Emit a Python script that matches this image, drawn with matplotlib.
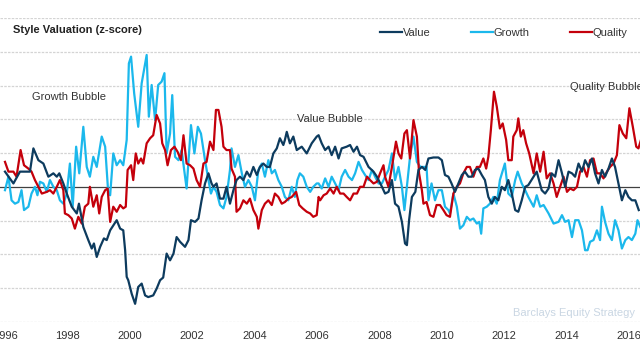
import matplotlib
matplotlib.use("Agg")
import matplotlib.pyplot as plt

# ============================================================
# Style Valuation (z-score) - Value / Growth / Quality
# ============================================================

value_years = [
    1996.00, 1996.27, 1996.48, 1996.80, 1996.91, 1997.07, 1997.23, 1997.39, 1997.55, 1997.66,
    1997.74, 1997.87, 1997.98, 1998.14, 1998.30, 1998.37, 1998.51, 1998.67, 1998.78, 1998.85,
    1998.94, 1999.05, 1999.17, 1999.26, 1999.37, 1999.58, 1999.69, 1999.79, 1999.85, 1999.90,
    1999.95, 2000.06, 2000.17, 2000.27, 2000.38, 2000.49, 2000.59, 2000.75, 2000.86, 2000.97,
    2001.07, 2001.18, 2001.29, 2001.40, 2001.50, 2001.61, 2001.77, 2001.88, 2001.96, 2002.09,
    2002.20, 2002.30, 2002.41, 2002.52, 2002.62, 2002.68, 2002.78, 2002.89, 2003.00, 2003.10,
    2003.21, 2003.32, 2003.42, 2003.53, 2003.64, 2003.75, 2003.85, 2003.96, 2004.07, 2004.17,
    2004.28, 2004.39, 2004.49, 2004.60, 2004.71, 2004.81, 2004.92, 2004.97, 2005.03, 2005.13,
    2005.24, 2005.35, 2005.51, 2005.67, 2005.83, 2005.99, 2006.05, 2006.15, 2006.26, 2006.37,
    2006.47, 2006.58, 2006.69, 2006.79, 2006.95, 2007.06, 2007.17, 2007.28, 2007.38, 2007.49,
    2007.65, 2007.81, 2007.92, 2008.08, 2008.18, 2008.29, 2008.40, 2008.50, 2008.61, 2008.72,
    2008.82, 2008.88, 2008.95, 2009.04, 2009.15, 2009.25, 2009.36, 2009.47, 2009.57, 2009.73,
    2009.89, 2010.00, 2010.10, 2010.21, 2010.31, 2010.42, 2010.53, 2010.64, 2010.74, 2010.85,
    2010.96, 2011.06, 2011.17, 2011.28, 2011.38, 2011.49, 2011.60, 2011.70, 2011.81, 2011.92,
    2012.02, 2012.13, 2012.24, 2012.35, 2012.45, 2012.56, 2012.67, 2012.77, 2012.94, 2013.04,
    2013.20, 2013.31, 2013.42, 2013.52, 2013.63, 2013.74, 2013.85, 2013.95, 2014.06, 2014.17,
    2014.27, 2014.38, 2014.49, 2014.59, 2014.70, 2014.81, 2014.91, 2015.02, 2015.13, 2015.23,
    2015.34, 2015.45, 2015.55, 2015.66, 2015.77, 2015.88, 2015.98, 2016.09, 2016.20, 2016.31,
]
value_z = [
    0.45, 0.10, 0.45, 0.45, 1.14, 0.79, 0.69, 0.30, 0.40, 0.30,
    0.40, 0.10, -0.20, -0.59, -0.79, -0.50, -1.19, -1.58, -1.83, -1.68,
    -2.08, -1.78, -1.53, -1.58, -1.29, -0.99, -1.24, -1.29, -1.88, -2.67,
    -2.77, -3.17, -3.47, -2.97, -2.87, -3.22, -3.27, -3.22, -3.02, -2.77,
    -2.69, -1.98, -2.18, -1.98, -1.49, -1.63, -1.78, -1.58, -0.99, -1.04,
    -0.94, -0.40, 0.10, 0.40, 0.10, 0.00, 0.10, -0.35, -0.35, 0.00,
    -0.50, -0.10, 0.20, 0.30, 0.20, 0.45, 0.30, 0.59, 0.35, 0.59,
    0.69, 0.59, 0.59, 0.99, 1.14, 1.44, 1.24, 1.39, 1.63, 1.29,
    1.49, 1.09, 1.19, 0.99, 1.29, 1.49, 1.53, 1.29, 1.09, 1.19,
    0.94, 1.19, 0.84, 1.14, 1.19, 1.24, 1.04, 1.19, 0.94, 0.89,
    0.59, 0.45, 0.30, 0.00, -0.20, -0.15, 0.20, -0.50, -0.59, -1.04,
    -1.68, -1.73, -0.99, -0.30, -0.15, 0.50, 0.59, 0.50, 0.84, 0.87,
    0.87, 0.79, 0.35, 0.30, 0.10, -0.15, 0.10, 0.35, 0.45, 0.30,
    0.30, 0.50, 0.54, 0.35, 0.20, -0.30, -0.50, -0.30, -0.40, 0.00,
    -0.10, 0.20, -0.20, -0.69, -0.74, -0.40, 0.00, 0.05, 0.30, 0.45,
    -0.10, -0.20, -0.05, 0.40, 0.30, 0.79, 0.40, 0.00, 0.45, 0.40,
    0.30, 0.69, 0.45, 0.79, 0.59, 0.84, 0.40, 0.10, 0.50, 0.30,
    0.54, 0.84, 0.59, 0.10, -0.40, -0.10, -0.30, -0.40, -0.40, -0.69,
]

growth_years = [
    1996.00, 1996.11, 1996.21, 1996.32, 1996.43, 1996.53, 1996.61, 1996.75, 1996.85, 1996.96,
    1997.04, 1997.12, 1997.23, 1997.34, 1997.44, 1997.55, 1997.66, 1997.76, 1997.87, 1997.98,
    1998.08, 1998.17, 1998.28, 1998.38, 1998.51, 1998.62, 1998.72, 1998.83, 1998.94, 1999.10,
    1999.21, 1999.31, 1999.37, 1999.47, 1999.58, 1999.69, 1999.79, 1999.90, 1999.97, 2000.04,
    2000.14, 2000.27, 2000.38, 2000.54, 2000.61, 2000.70, 2000.81, 2000.91, 2001.02, 2001.11,
    2001.18, 2001.29, 2001.36, 2001.45, 2001.56, 2001.66, 2001.82, 2001.96, 2002.07, 2002.18,
    2002.28, 2002.41, 2002.52, 2002.60, 2002.68, 2002.78, 2002.89, 2003.00, 2003.10, 2003.21,
    2003.26, 2003.37, 2003.48, 2003.59, 2003.69, 2003.80, 2003.91, 2004.01, 2004.12, 2004.23,
    2004.33, 2004.44, 2004.55, 2004.65, 2004.76, 2004.87, 2004.97, 2005.08, 2005.19, 2005.29,
    2005.37, 2005.45, 2005.56, 2005.67, 2005.78, 2005.88, 2005.99, 2006.05, 2006.15, 2006.26,
    2006.37, 2006.47, 2006.58, 2006.69, 2006.79, 2006.90, 2007.01, 2007.12, 2007.22, 2007.33,
    2007.44, 2007.54, 2007.65, 2007.76, 2007.86, 2007.97, 2008.08, 2008.18, 2008.29, 2008.40,
    2008.50, 2008.61, 2008.72, 2008.80, 2008.88, 2008.98, 2009.09, 2009.20, 2009.31, 2009.41,
    2009.51, 2009.57, 2009.67, 2009.78, 2009.89, 2010.00, 2010.10, 2010.21, 2010.26, 2010.37,
    2010.48, 2010.58, 2010.69, 2010.80, 2010.90, 2011.01, 2011.12, 2011.20, 2011.26, 2011.33,
    2011.44, 2011.54, 2011.65, 2011.76, 2011.86, 2012.02, 2012.13, 2012.24, 2012.35, 2012.43,
    2012.56, 2012.67, 2012.77, 2012.94, 2013.04, 2013.15, 2013.26, 2013.42, 2013.58, 2013.74,
    2013.85, 2013.95, 2014.06, 2014.17, 2014.27, 2014.38, 2014.49, 2014.59, 2014.67, 2014.75,
    2014.86, 2014.97, 2015.07, 2015.13, 2015.23, 2015.34, 2015.45, 2015.55, 2015.66, 2015.77,
    2015.88, 2015.98, 2016.09, 2016.20, 2016.27, 2016.36,
]
growth_z = [
    -0.10, 0.30, -0.40, -0.50, -0.45, -0.10, -0.69, -0.59, -0.20, 0.00,
    -0.25, 0.15, 0.10, -0.15, 0.20, 0.00, -0.10, -0.40, -0.50, -0.20,
    0.69, -0.59, 1.19, 0.40, 1.78, 0.59, 0.30, 0.89, 0.59, 1.49,
    1.19, -0.20, -0.25, 0.99, 0.64, 0.79, 0.64, 1.39, 3.66, 3.86,
    2.77, 1.78, 3.07, 3.91, 2.08, 3.02, 1.98, 3.02, 3.12, 3.37,
    0.99, 1.58, 2.72, 0.89, 0.79, 1.09, -0.05, 1.83, 0.99, 1.78,
    1.58, 0.79, 0.20, -0.20, 0.00, -0.15, -0.54, -0.64, -0.30, 0.50,
    1.14, 0.59, 0.94, 0.40, 0.00, 0.20, 0.00, -0.40, 0.50, 0.69,
    0.30, 0.79, 0.40, 0.50, 0.20, 0.00, -0.30, -0.40, 0.00, -0.30,
    0.20, 0.40, 0.30, 0.00, -0.15, 0.00, 0.10, 0.10, -0.05, 0.25,
    0.00, 0.30, 0.10, -0.10, 0.30, 0.50, 0.30, 0.20, 0.40, 0.74,
    0.50, 0.35, 0.20, 0.50, 0.30, 0.10, 0.10, 0.30, 0.50, 0.99,
    0.20, 0.59, 0.00, -0.69, 0.00, 0.89, 1.49, 0.74, 0.59, 0.59,
    0.59, -0.40, 0.10, -0.40, -0.10, -0.10, -0.59, -0.69, -0.79, -0.20,
    -0.59, -1.24, -1.14, -0.89, -0.99, -0.94, -1.09, -1.04, -1.39, -0.64,
    -0.59, -0.50, -0.30, -0.50, 0.20, 0.69, -0.20, -0.30, 0.20, 0.45,
    0.10, -0.10, -0.30, -0.59, -0.25, -0.59, -0.54, -0.79, -1.09, -1.04,
    -0.84, -1.04, -0.99, -1.49, -0.99, -0.99, -1.29, -1.88, -1.88, -1.63,
    -1.58, -1.29, -1.58, -0.59, -1.04, -1.39, -1.58, -0.99, -1.29, -1.83,
    -1.58, -1.49, -1.58, -1.39, -0.99, -1.19,
]

quality_years = [
    1996.00, 1996.11, 1996.27, 1996.37, 1996.50, 1996.61, 1996.75, 1996.85, 1996.96, 1997.07,
    1997.18, 1997.34, 1997.44, 1997.55, 1997.66, 1997.76, 1997.87, 1997.92, 1998.03, 1998.14,
    1998.24, 1998.35, 1998.46, 1998.56, 1998.67, 1998.72, 1998.83, 1998.94, 1999.02, 1999.10,
    1999.21, 1999.29, 1999.37, 1999.47, 1999.58, 1999.69, 1999.79, 1999.87, 1999.93, 2000.04,
    2000.11, 2000.19, 2000.27, 2000.36, 2000.43, 2000.54, 2000.65, 2000.75, 2000.86, 2000.97,
    2001.04, 2001.13, 2001.21, 2001.32, 2001.43, 2001.53, 2001.64, 2001.72, 2001.82, 2001.93,
    2002.04, 2002.14, 2002.25, 2002.36, 2002.46, 2002.57, 2002.68, 2002.76, 2002.84, 2002.94,
    2003.00, 2003.10, 2003.21, 2003.26, 2003.37, 2003.42, 2003.53, 2003.64, 2003.75, 2003.85,
    2003.96, 2004.07, 2004.12, 2004.23, 2004.33, 2004.44, 2004.55, 2004.65, 2004.76, 2004.87,
    2004.97, 2005.08, 2005.19, 2005.33, 2005.43, 2005.54, 2005.67, 2005.78, 2005.88, 2005.99,
    2006.05, 2006.10, 2006.21, 2006.31, 2006.42, 2006.53, 2006.63, 2006.74, 2006.85, 2006.95,
    2007.06, 2007.17, 2007.28, 2007.38, 2007.49, 2007.60, 2007.70, 2007.81, 2007.92, 2008.02,
    2008.13, 2008.18, 2008.29, 2008.40, 2008.53, 2008.61, 2008.70, 2008.80, 2008.88, 2008.98,
    2009.09, 2009.20, 2009.27, 2009.36, 2009.41, 2009.51, 2009.62, 2009.73, 2009.83, 2009.94,
    2010.05, 2010.15, 2010.26, 2010.37, 2010.48, 2010.58, 2010.69, 2010.80, 2010.90, 2011.01,
    2011.12, 2011.22, 2011.33, 2011.42, 2011.49, 2011.57, 2011.67, 2011.76, 2011.86, 2011.95,
    2012.06, 2012.13, 2012.24, 2012.29, 2012.40, 2012.45, 2012.53, 2012.61, 2012.70, 2012.80,
    2012.94, 2013.04, 2013.15, 2013.26, 2013.36, 2013.47, 2013.58, 2013.68, 2013.79, 2013.90,
    2014.01, 2014.11, 2014.22, 2014.33, 2014.43, 2014.54, 2014.65, 2014.75, 2014.86, 2014.97,
    2015.07, 2015.18, 2015.29, 2015.39, 2015.50, 2015.61, 2015.69, 2015.80, 2015.91, 2016.01,
    2016.12, 2016.23, 2016.30, 2016.38,
]
quality_z = [
    0.74, 0.45, 0.45, 0.30, 1.09, 0.64, 0.54, 0.45, 0.20, 0.00,
    -0.20, -0.15, -0.10, -0.20, 0.00, 0.20, -0.10, -0.79, -0.84, -0.94,
    -1.24, -0.89, -1.09, -0.59, -0.50, 0.00, -0.59, -0.25, -0.79, -0.30,
    -0.10, -0.05, -1.04, -0.59, -0.74, -0.54, -0.64, -0.59, 0.50, 0.64,
    0.20, 0.99, 0.69, 0.84, 0.69, 1.29, 1.44, 1.53, 2.13, 1.88,
    1.29, 1.09, 0.64, 1.09, 1.19, 1.04, 0.79, 1.53, 0.69, 0.64,
    0.54, 0.20, 0.00, 0.69, 0.74, 1.34, 1.09, 2.28, 2.28, 1.78,
    1.19, 1.09, 1.09, 0.54, 0.30, -0.74, -0.64, -0.40, -0.50, -0.35,
    -0.69, -0.89, -1.24, -0.69, -0.50, -0.40, -0.54, -0.20, -0.30, -0.50,
    -0.45, -0.35, -0.30, -0.15, -0.54, -0.64, -0.74, -0.79, -0.89, -0.84,
    -0.30, -0.40, -0.25, -0.20, -0.05, -0.20, 0.00, -0.20, -0.20, -0.30,
    -0.40, -0.20, -0.20, 0.00, 0.00, 0.30, 0.20, 0.10, 0.15, 0.40,
    0.64, 0.30, 0.00, 0.59, 1.34, 0.99, 0.84, 1.58, 1.68, 0.84,
    1.98, 1.49, 0.40, -0.10, -0.50, -0.45, -0.84, -0.89, -0.54, -0.54,
    -0.69, -0.84, -0.89, -0.20, 0.00, 0.10, 0.40, 0.59, 0.59, 0.30,
    0.59, 0.59, 0.84, 0.54, 0.89, 1.68, 2.82, 2.38, 1.73, 1.88,
    1.39, 0.79, 0.79, 1.49, 1.68, 2.03, 1.49, 1.68, 1.29, 0.99,
    0.40, 0.99, 0.45, 1.04, 0.25, 0.40, 0.10, -0.30, 0.00, 0.30,
    -0.15, -0.05, -0.10, 0.00, 0.45, 0.59, 0.30, 0.79, 0.84, 0.40,
    0.40, 0.25, 0.45, 0.59, 0.69, 0.94, 1.83, 1.58, 1.44, 2.33,
    1.78, 1.19, 1.14, 1.39,
]

year_ticks = [1996, 1998, 2000, 2002, 2004, 2006, 2008, 2010, 2012, 2014, 2016]
grid_levels = [-4, -3, -2, -1, 1, 2, 3, 4, 5]

# ============================================================
# Figura
# ============================================================

plt.rcParams["font.family"] = ["Liberation Sans", "DejaVu Sans"]

fig = plt.figure(figsize=(6.4, 3.6), dpi=100)
ax = fig.add_axes([0.0, 0.1064, 1.0, 0.843])

for lvl in grid_levels:
    ax.axhline(lvl, color="#d4d4d4", lw=0.9, ls=(0, (2, 1)), zorder=0)
ax.axhline(0, color="#404040", lw=0.9, zorder=1)

ax.plot(growth_years, growth_z, color="#1bb8ec", lw=1.6, label="Growth", zorder=2)
ax.plot(quality_years, quality_z, color="#c4000b", lw=1.6, label="Quality", zorder=3)
ax.plot(value_years, value_z, color="#0d3b5e", lw=1.6, label="Value", zorder=4)

ax.set_xlim(1995.84, 2016.35)
ax.set_ylim(-4, 5)

ax.set_xticks(year_ticks)
ax.set_xticklabels([str(y) for y in year_ticks])
ax.tick_params(axis="x", length=0, pad=6.5, labelsize=8, labelcolor="#333333")
ax.set_yticks([])
for s in ax.spines.values():
    s.set_visible(False)

handles, labels = ax.get_legend_handles_labels()
order = [2, 0, 1]
ax.legend([handles[i] for i in order], [labels[i] for i in order],
          ncol=3, frameon=False, fontsize=8, labelcolor="#333333",
          handlelength=2.0, handletextpad=0.05, columnspacing=3.6,
          loc="center", bbox_to_anchor=(0.787, 0.908), bbox_transform=fig.transFigure)

fig.text(0.02, 0.918, "Style Valuation (z-score)", fontsize=8, fontweight="bold",
         color="#222222", va="center")
ax.text(1996.87, 2.65, "Growth Bubble", fontsize=8, color="#333333", va="center")
ax.text(2005.35, 2.0, "Value Bubble", fontsize=8, color="#333333", va="center")
ax.text(2014.1, 2.95, "Quality Bubble", fontsize=8, color="#333333", va="center")
ax.text(2016.2, -3.75, "Barclays Equity Strategy", fontsize=8, color="#c9d6e3",
        ha="right", va="center")

fig.savefig("out.png", dpi=100)
